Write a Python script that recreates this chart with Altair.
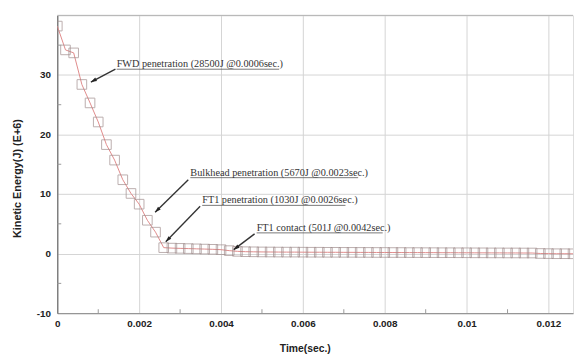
import math
import altair as alt
import pandas as pd

# ---- data ----
times = [0.0, 0.0002, 0.0004, 0.0006, 0.0008, 0.001, 0.0012, 0.0014, 0.0016, 0.0018,
         0.002, 0.0022, 0.0024, 0.0026, 0.0028, 0.003, 0.0032, 0.0034, 0.0036, 0.0038,
         0.004, 0.0042, 0.0044, 0.0046, 0.0048, 0.005, 0.0052, 0.0054, 0.0056, 0.0058,
         0.006, 0.0062, 0.0064, 0.0066, 0.0068, 0.007, 0.0072, 0.0074, 0.0076, 0.0078,
         0.008, 0.0082, 0.0084, 0.0086, 0.0088, 0.009, 0.0092, 0.0094, 0.0096, 0.0098,
         0.01, 0.0102, 0.0104, 0.0106, 0.0108, 0.011, 0.0112, 0.0114, 0.0116, 0.0118,
         0.012, 0.0122, 0.0124, 0.0126]
energy = [38.2, 34.2, 33.7, 28.4, 25.3, 22.1, 18.3, 15.7, 12.4, 10.1,
          8.3, 5.6, 3.6, 1.0, 0.92, 0.88, 0.84, 0.8, 0.76, 0.72,
          0.66, 0.5, 0.38, 0.32, 0.3, 0.28, 0.27, 0.26, 0.25, 0.25,
          0.24, 0.23, 0.23, 0.22, 0.22, 0.21, 0.21, 0.2, 0.2, 0.19,
          0.19, 0.18, 0.18, 0.17, 0.17, 0.16, 0.16, 0.15, 0.15, 0.14,
          0.14, 0.13, 0.13, 0.12, 0.12, 0.11, 0.11, 0.1, 0.1, 0.02,
          0.0, -0.02, -0.02, -0.03]

ann_labels = ["FWD penetration  (28500J  @0.0006sec.)",
              "Bulkhead penetration  (5670J  @0.0023sec.)",
              "FT1 penetration  (1030J  @0.0026sec.)",
              "FT1 contact  (501J  @0.0042sec.)"]
ann_text_x = [0.00145, 0.00325, 0.00354, 0.00487]
ann_line_y = [30.96, 12.75, 8.1, 3.48]
ann_line_end = [0.00542, 0.00735, 0.00704, 0.00795]
ann_tail_x = [0.00142, 0.0032, 0.00349, 0.00482]
ann_tail_y = [30.96, 12.4, 7.95, 3.31]
ann_tip_x = [0.00082, 0.00239, 0.00265, 0.00431]
ann_tip_y = [28.8, 6.95, 1.99, 0.66]

y_major = [-10, 0, 10, 20, 30]
y_minor = [35, 25, 15, 5, -5]
x_major = [0, 0.002, 0.004, 0.006, 0.008, 0.01, 0.012]
x_minor = [0.001, 0.003, 0.005, 0.007, 0.009, 0.011]

X_MAX = 0.0126
W, H = 523, 302

df = pd.DataFrame({"time": times, "energy": energy})

px_x = W / X_MAX
px_y = H / 50.0
angles = []
for tx, ty, hx, hy in zip(ann_tail_x, ann_tail_y, ann_tip_x, ann_tip_y):
    dx = (hx - tx) * px_x
    dy = -(hy - ty) * px_y
    angles.append(math.degrees(math.atan2(dx, -dy)) % 360)

ann = pd.DataFrame({
    "label": ann_labels, "tx": ann_text_x, "ly": ann_line_y, "lend": ann_line_end,
    "tailx": ann_tail_x, "taily": ann_tail_y, "tipx": ann_tip_x, "tipy": ann_tip_y,
    "angle": angles,
})

xs = alt.Scale(domain=[0, X_MAX], nice=False, zero=False)
ys = alt.Scale(domain=[-10, 40], nice=False, zero=False)

x_axis = alt.Axis(values=x_major, format="~g", grid=True, gridColor="#d4d4d4",
                  ticks=False, domainColor="#888888", labelFont="Liberation Sans",
                  labelFontWeight="bold", labelFontSize=10, labelColor="#222222",
                  labelPadding=6, labelOverlap=False, labelFlush=False, labelBound=False,
                  title="Time(sec.)", titleFont="Liberation Sans", titleFontWeight="bold",
                  titleFontSize=10.5, titleColor="#222222", titleX=251, titleY=39,
                  titleBaseline="alphabetic")
y_axis = alt.Axis(values=y_major, grid=True, gridColor="#d4d4d4", ticks=False,
                  domainColor="#555555",
                  labelExpr="datum.value < 0 ? '-' + abs(datum.value) : '' + datum.value",
                  labelFont="Liberation Sans", labelFontWeight="bold", labelFontSize=10,
                  labelColor="#222222", labelPadding=7,
                  title="Kinetic Energy(J) (E+6)", titleFont="Liberation Sans",
                  titleFontWeight="bold", titleFontSize=11, titleColor="#222222",
                  titleX=-35, titleY=165)

base = alt.Chart(df)
line = base.mark_line(color="#e08a8a", strokeWidth=1, clip=True).encode(
    x=alt.X("time:Q", scale=xs, axis=x_axis),
    y=alt.Y("energy:Q", scale=ys, axis=y_axis),
)
pts = base.mark_point(shape="square", size=95, filled=False, color="#a08c8c",
                      strokeWidth=1, clip=True).encode(
    x=alt.X("time:Q", scale=xs), y=alt.Y("energy:Q", scale=ys))

top_border = alt.Chart(pd.DataFrame({"a": [0]})).mark_rule(color="#b0b0b0").encode(
    x=alt.value(0), x2=alt.value(W), y=alt.value(0))

ymin = alt.Chart(pd.DataFrame({"v": y_minor})).mark_rule(color="#999999").encode(
    y=alt.Y("v:Q", scale=ys), x=alt.value(0), x2=alt.value(4))
xmin = alt.Chart(pd.DataFrame({"v": x_minor})).mark_rule(color="#999999").encode(
    x=alt.X("v:Q", scale=xs), y=alt.value(H), y2=alt.value(H - 4))

abase = alt.Chart(ann)
texts = abase.mark_text(align="left", baseline="alphabetic", dy=-2,
                        font="Liberation Serif", fontSize=10.4, color="#333333").encode(
    x=alt.X("tx:Q", scale=xs), y=alt.Y("ly:Q", scale=ys), text="label:N")
under = abase.mark_rule(color="#555555", strokeWidth=0.8).encode(
    x=alt.X("tx:Q", scale=xs), x2="lend:Q", y=alt.Y("ly:Q", scale=ys))
shafts = abase.mark_rule(color="#333333", strokeWidth=1.4).encode(
    x=alt.X("tailx:Q", scale=xs), x2="tipx:Q",
    y=alt.Y("taily:Q", scale=ys), y2="tipy:Q")
heads = abase.mark_point(shape="M0,0L0.55,1.7L-0.55,1.7Z", size=50, filled=True,
                         color="#222222", opacity=1).encode(
    x=alt.X("tipx:Q", scale=xs), y=alt.Y("tipy:Q", scale=ys),
    angle=alt.Angle("angle:Q", scale=None))

chart = alt.layer(line, pts, top_border, ymin, xmin, under, shafts, heads, texts).properties(
    width=W, height=H,
    autosize=alt.AutoSizeParams(type="none"),
    padding={"left": 50, "top": 5, "right": 2, "bottom": 43},
).configure_view(stroke=None).configure(background="white")

chart.save("out.html", embed_options={"renderer": "svg", "actions": False})
